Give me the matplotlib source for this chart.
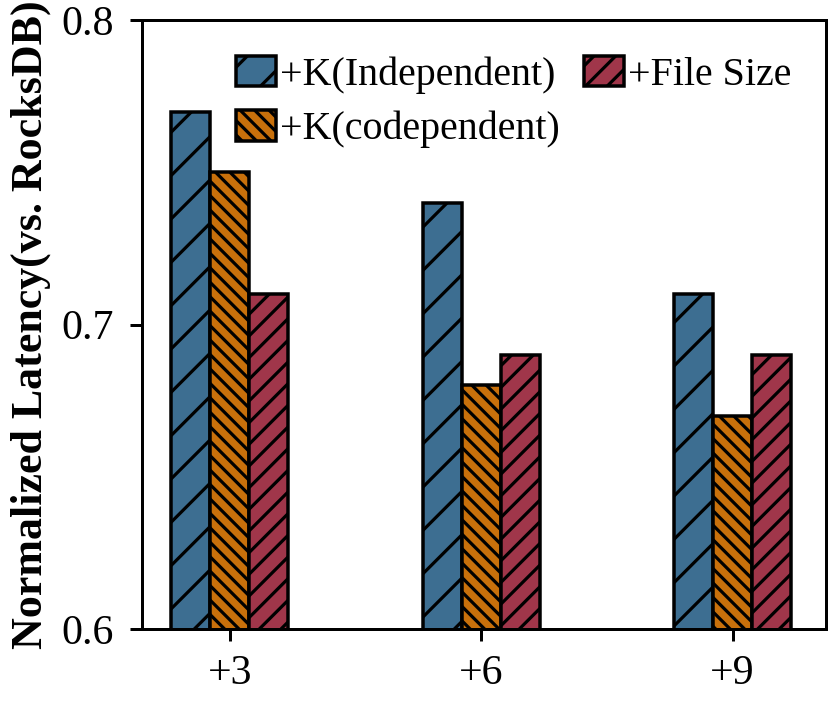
import matplotlib
matplotlib.use("Agg")
import matplotlib.pyplot as plt
import numpy as np

categories = ["+3", "+6", "+9"]
series_names = ["+K(Independent)", "+K(codependent)", "+File Size"]
independent = [0.77, 0.74, 0.71]
codependent = [0.75, 0.68, 0.67]
file_size = [0.71, 0.69, 0.69]
yticks = [0.6, 0.7, 0.8]

colors = ["#3D6E91", "#C8700B", "#A0364A"]
hatches = ["/", "\\\\\\", "//"]

DPI = 130
def px(p):
    return p * 72.0 / DPI

plt.rcParams['font.family'] = ['Liberation Serif', 'DejaVu Serif']
plt.rcParams['hatch.linewidth'] = px(3.2)

fig = plt.figure(figsize=(829 / DPI, 701 / DPI), dpi=DPI)
ax = fig.add_axes([0.171, 0.103, 0.825, 0.868])

x = np.arange(len(categories))
w = 0.155
data = [independent, codependent, file_size]
for i, (vals, c, h, n) in enumerate(zip(data, colors, hatches, series_names)):
    ax.bar(x + (i - 1) * w, vals, w, color=c, edgecolor="black", linewidth=px(3.5),
           hatch=h, label=n)

ax.set_ylim(0.6, 0.8)
ax.set_xlim(-0.35, 2.37)
ax.set_yticks(yticks)
ax.set_yticklabels([f"{t:.1f}" for t in yticks])
ax.set_xticks(x)
ax.set_xticklabels(categories)
ax.tick_params(axis="y", labelsize=px(42), width=px(3), length=px(12), pad=px(16))
ax.tick_params(axis="x", labelsize=px(42), width=px(3), length=px(12), pad=px(14))
for s in ax.spines.values():
    s.set_linewidth(px(3))
ax.set_ylabel("Normalized Latency(vs. RocksDB)", fontsize=px(44), fontweight="bold", labelpad=px(10))

ax.legend(ncol=2, loc="upper right", frameon=False, fontsize=px(40),
          handlelength=1.0, handleheight=0.8, handletextpad=0.1,
          columnspacing=0.6, labelspacing=0.4, borderaxespad=0.0,
          bbox_to_anchor=(0.973, 0.968))

fig.savefig("out.png", dpi=DPI)
